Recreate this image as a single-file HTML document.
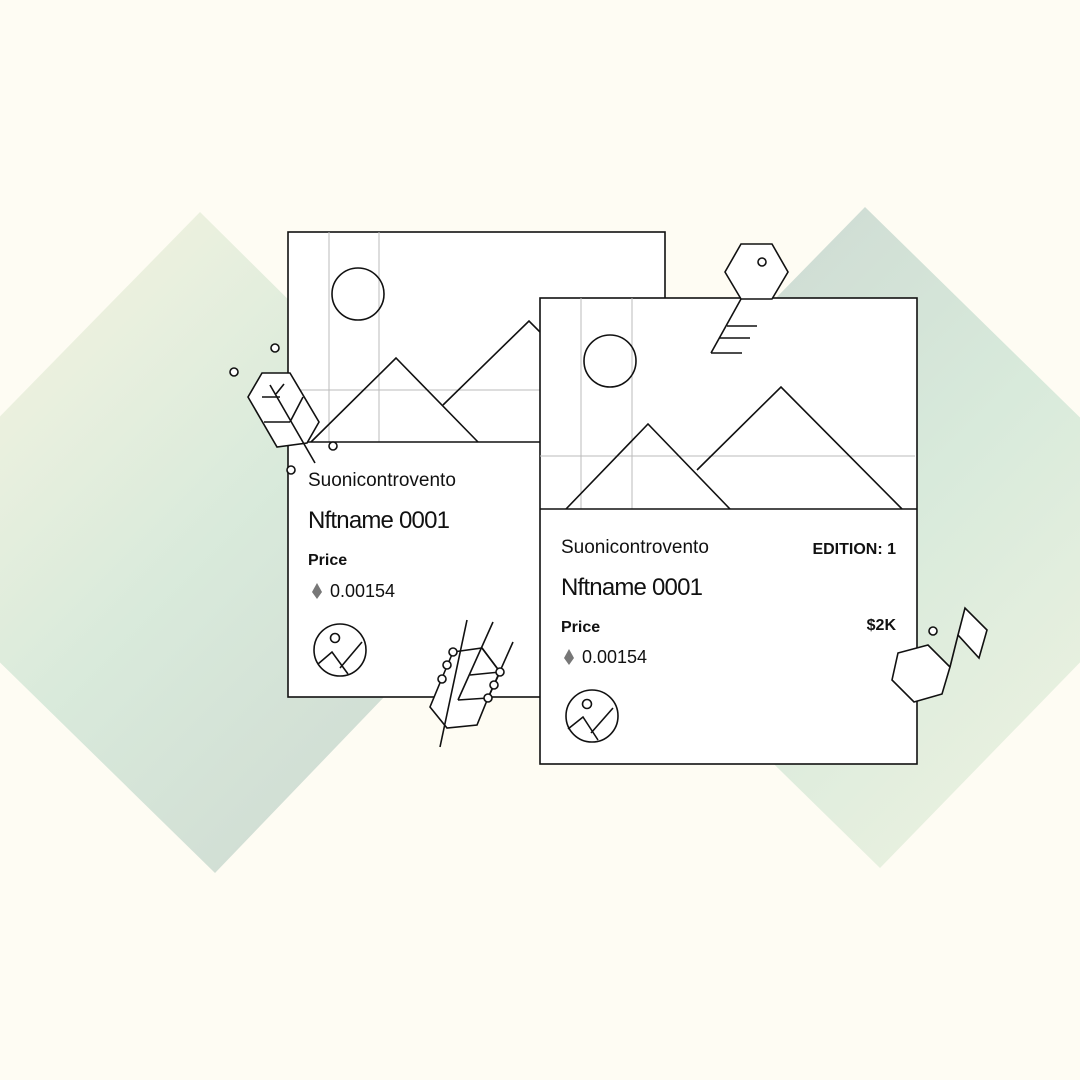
<!DOCTYPE html>
<html><head><meta charset="utf-8"><style>
html,body{margin:0;padding:0;background:#fefcf3;}
svg{display:block;}
text{font-family:"Liberation Sans",sans-serif;fill:#111;}
</style></head><body>
<svg width="1080" height="1080" viewBox="0 0 1080 1080">
<defs>
<linearGradient id="gl" x1="0" y1="0" x2="1" y2="1">
<stop offset="0" stop-color="#fdf7e2"/><stop offset="0.5" stop-color="#d9eadb"/><stop offset="1" stop-color="#cbd5cf"/>
</linearGradient>
<linearGradient id="gr" x1="0" y1="0" x2="1" y2="1">
<stop offset="0" stop-color="#c9d3cf"/><stop offset="0.5" stop-color="#d8eadb"/><stop offset="1" stop-color="#f5f5e3"/>
</linearGradient>
</defs>
<rect width="1080" height="1080" fill="#fefcf3"/>
<polygon points="200,212 533,542 215,873 -123,542" fill="url(#gl)"/>
<polygon points="865,207 1202,537 880,868 542,537" fill="url(#gr)"/>

<g stroke="#111" fill="none" stroke-width="1.6">
<rect x="288" y="232" width="377" height="465" fill="#fff"/>
<g stroke="#bbb" stroke-width="1"><line x1="329" y1="232" x2="329" y2="442"/><line x1="379" y1="232" x2="379" y2="442"/><line x1="288" y1="390" x2="665" y2="390"/></g>
<circle cx="358" cy="294" r="26"/>
<polyline points="311,442 396,358 478,442"/>
<polyline points="443,405 529,321 600,392"/>
<line x1="288" y1="442" x2="665" y2="442"/>
<circle cx="340" cy="650" r="26"/>
<circle cx="335" cy="638" r="4.5"/>
<polyline points="318,664 332,652 348,674"/>
<line x1="340" y1="668" x2="362" y2="642"/>
</g>
<text x="308" y="486" font-size="19">Suonicontrovento</text>
<text x="308" y="528" font-size="24" letter-spacing="-0.8">Nftname 0001</text>
<text x="308" y="565" font-size="16" font-weight="bold">Price</text>
<polygon points="317,583 322,592 317,599 312,592" fill="#777"/>
<text x="330" y="597" font-size="18">0.00154</text>

<g stroke="#111" fill="none" stroke-width="1.6">
<rect x="540" y="298" width="377" height="466" fill="#fff"/>
<g stroke="#bbb" stroke-width="1"><line x1="581" y1="298" x2="581" y2="509"/><line x1="632" y1="298" x2="632" y2="509"/><line x1="540" y1="456" x2="915" y2="456"/></g>
<circle cx="610" cy="361" r="26"/>
<polyline points="566,509 648,424 730,509"/>
<polyline points="697,470 781,387 902,509"/>
<line x1="540" y1="509" x2="917" y2="509"/>
<circle cx="592" cy="716" r="26"/>
<circle cx="587" cy="704" r="4.5"/>
<polyline points="568,729 583,717 598,740"/>
<line x1="591" y1="733" x2="613" y2="708"/>
</g>
<text x="561" y="553" font-size="19">Suonicontrovento</text>
<text x="896" y="554" font-size="16" font-weight="bold" text-anchor="end">EDITION: 1</text>
<text x="561" y="595" font-size="24" letter-spacing="-0.8">Nftname 0001</text>
<text x="561" y="632" font-size="16" font-weight="bold">Price</text>
<text x="896" y="630" font-size="16" font-weight="bold" text-anchor="end">$2K</text>
<polygon points="569,649 574,658 569,665 564,658" fill="#777"/>
<text x="582" y="663" font-size="18">0.00154</text>

<g stroke="#111" fill="none" stroke-width="1.6">
<g>
<polygon points="741,244 772,244 788,272 772,299 741,299 725,272" fill="#fff"/>
<circle cx="762" cy="262" r="4"/>
<line x1="741" y1="299" x2="711" y2="353"/>
<line x1="727" y1="326" x2="757" y2="326"/>
<line x1="719" y1="338" x2="750" y2="338"/>
<line x1="711" y1="353" x2="742" y2="353"/>
</g>
<g>
<polygon points="898,653 928,645 950,667 942,694 914,702 892,680" fill="#fff"/>
<line x1="950" y1="667" x2="958" y2="635"/>
<polygon points="958,635 965,608 987,630 979,658" fill="#fff"/>
<circle cx="933" cy="631" r="4" fill="#fff"/>
</g>
<g>
<polygon points="248,397 262,373 290,373 319,422 307,443 277,447" fill="#fff"/>
<line x1="270" y1="385" x2="315" y2="463"/>
<line x1="264" y1="422" x2="290" y2="422"/>
<line x1="262" y1="397" x2="280" y2="397"/>
<line x1="284" y1="384" x2="276" y2="394"/>
<line x1="303" y1="397" x2="290" y2="422"/>
<circle cx="275" cy="348" r="4" fill="#fff"/><circle cx="234" cy="372" r="4" fill="#fff"/>
<circle cx="333" cy="446" r="4" fill="#fff"/><circle cx="291" cy="470" r="4" fill="#fff"/>
</g>
<g>
<polygon points="453,652 482,648 500,672 488,698 477,725 447,728 430,707 442,678" fill="#fff"/>
<line x1="467" y1="620" x2="440" y2="747"/>
<line x1="493" y1="622" x2="458" y2="700"/>
<line x1="513" y1="642" x2="488" y2="698"/>
<line x1="470" y1="675" x2="500" y2="672"/>
<line x1="458" y1="700" x2="488" y2="698"/>
<line x1="482" y1="648" x2="500" y2="672"/>
<g fill="#fff"><circle cx="453" cy="652" r="4"/><circle cx="447" cy="665" r="4"/><circle cx="442" cy="679" r="4"/>
<circle cx="500" cy="672" r="4"/><circle cx="494" cy="685" r="4"/><circle cx="488" cy="698" r="4"/></g>
</g>
</g>
</svg>
</body></html>
